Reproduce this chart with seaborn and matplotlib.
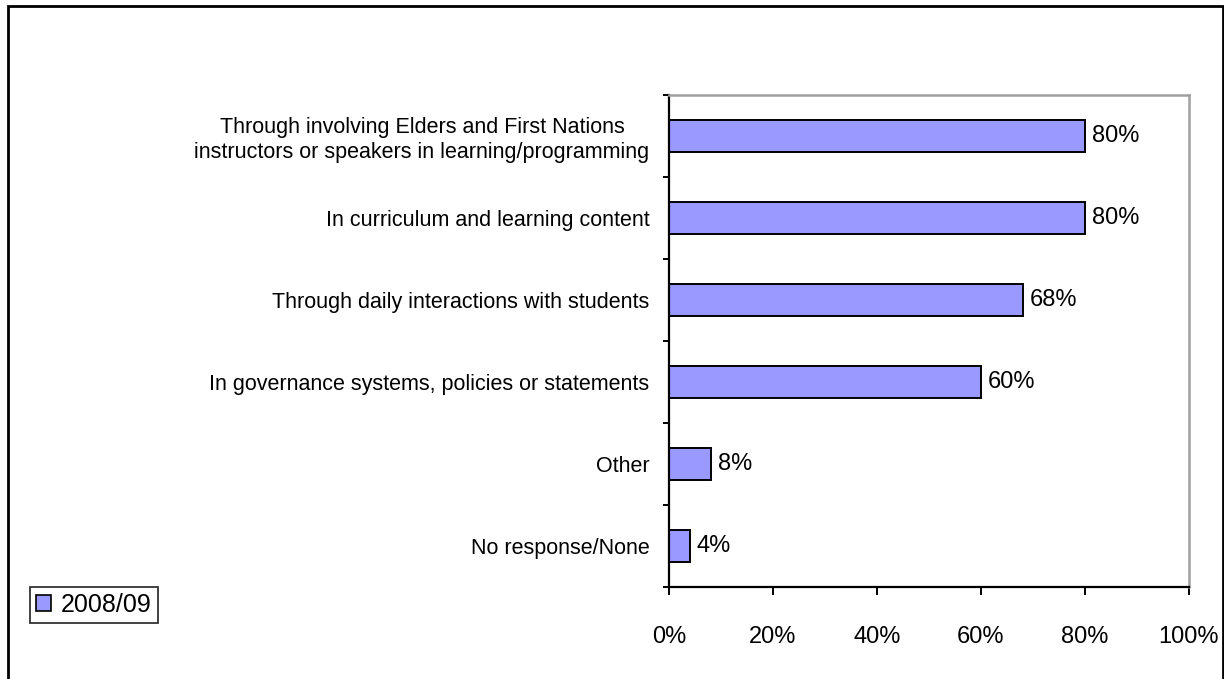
import matplotlib
matplotlib.use("Agg")
import matplotlib.pyplot as plt
from matplotlib.patches import Patch, Rectangle
from matplotlib.ticker import FixedLocator
import pandas as pd
import seaborn as sns

# Ways First Nations culture is reflected in the school (share of respondents, %)
categories = [
    "Through involving Elders and First Nations\ninstructors or speakers in learning/programming",
    "In curriculum and learning content",
    "Through daily interactions with students",
    "In governance systems, policies or statements",
    "Other",
    "No response/None",
]
values = [80, 80, 68, 60, 8, 4]
series_name = "2008/09"
x_ticks = [0, 20, 40, 60, 80, 100]

bar_color = "#9999FF"

sns.set_theme(style="white")
plt.rcParams["font.family"] = ["Liberation Sans", "DejaVu Sans"]
plt.rcParams["text.color"] = "black"
plt.rcParams["xtick.color"] = "black"
plt.rcParams["ytick.color"] = "black"
plt.rcParams["axes.labelcolor"] = "black"

df = pd.DataFrame({"category": categories, "value": values, "year": series_name})

fig = plt.figure(figsize=(12.24, 6.79), dpi=100)
ax = fig.add_axes([669 / 1224, 1 - 587 / 679, 520 / 1224, 492 / 679])

sns.barplot(
    data=df, x="value", y="category", hue="year", palette=[bar_color],
    orient="h", width=0.38, edgecolor="black", linewidth=1.4,
    legend=False, ax=ax, saturation=1,
)

# value labels at the end of each bar
for container in ax.containers:
    ax.bar_label(container, labels=[f"{v}%" for v in values],
                 padding=5, fontsize=17, color="black")

ax.set_xlim(0, 100)
ax.set_ylim(len(categories) - 0.5, -0.5)
ax.set_xlabel("")
ax.set_ylabel("")

ax.set_xticks(x_ticks)
ax.set_xticklabels([f"{t}%" for t in x_ticks], fontsize=17, color="black")
ax.tick_params(axis="x", direction="out", length=6, width=1.4,
               color="black", pad=22, bottom=True)

# category labels at bar centres, tick marks on the category boundaries
ax.set_yticks(range(len(categories)))
ax.set_yticklabels(categories, fontsize=15.5, multialignment="center",
                   color="black")
ax.tick_params(axis="y", which="major", length=0, pad=14)
ax.yaxis.set_minor_locator(FixedLocator([i - 0.5 for i in range(len(categories) + 1)]))
ax.tick_params(axis="y", which="minor", direction="out", length=4,
               width=1.4, color="black", left=True)

for side in ("left", "bottom"):
    ax.spines[side].set_color("black")
    ax.spines[side].set_linewidth(1.6)
for side in ("top", "right"):
    ax.spines[side].set_color("#A0A0A0")
    ax.spines[side].set_linewidth(1.8)

# legend in the lower-left corner of the figure
handles = [Patch(facecolor=bar_color, edgecolor="black", linewidth=1.2)]
leg = fig.legend(
    handles, [series_name], loc="lower left",
    bbox_to_anchor=(30 / 1224, 1 - 623 / 679), borderaxespad=0,
    fontsize=18, frameon=True, fancybox=False, handlelength=0.6,
    handleheight=0.6, handletextpad=0.4, borderpad=0.25,
)
leg.get_frame().set_edgecolor("black")
leg.get_frame().set_linewidth(1.3)

# outer chart border
fig.patches.append(Rectangle(
    (8 / 1224, -0.02), (1223 - 8) / 1224, 1.02 - 6 / 679,
    transform=fig.transFigure, fill=False, edgecolor="black",
    linewidth=2, clip_on=False,
))

fig.savefig("out.png", dpi=100)
